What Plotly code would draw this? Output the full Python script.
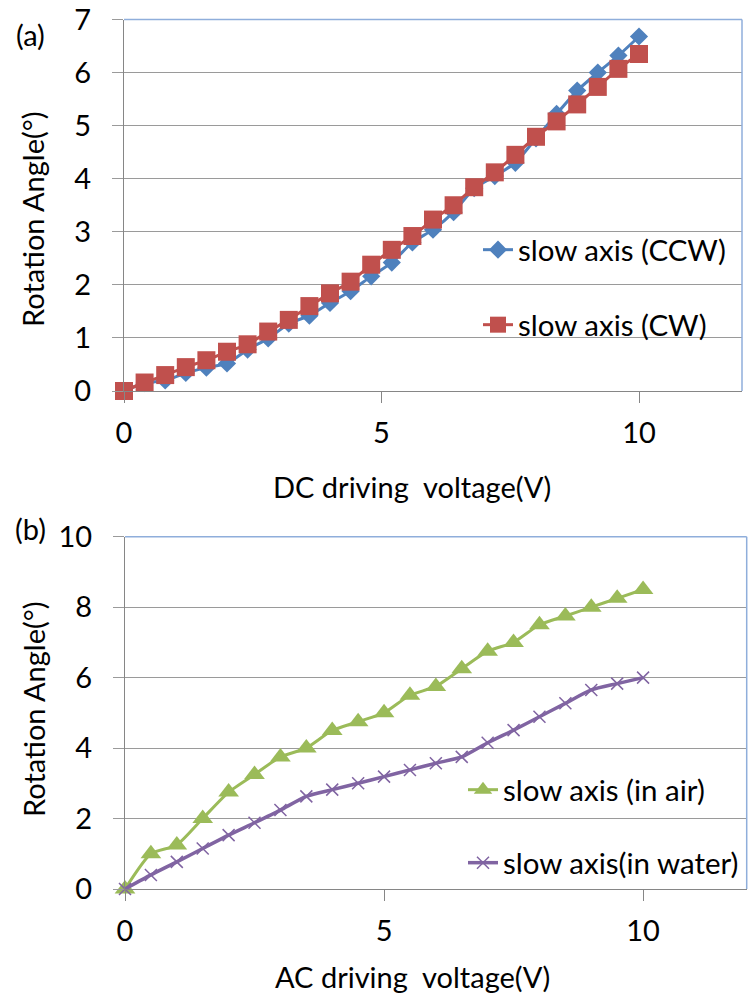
import plotly.graph_objects as go

# ---------------- data ----------------
dc_voltage = [0, 0.4, 0.8, 1.2, 1.6, 2.0, 2.4, 2.8, 3.2, 3.6, 4.0, 4.4, 4.8,
              5.2, 5.6, 6.0, 6.4, 6.8, 7.2, 7.6, 8.0, 8.4, 8.8, 9.2, 9.6, 10.0]
ccw_angle = [0, 0.15, 0.20, 0.34, 0.44, 0.52, 0.78, 0.99, 1.27, 1.42, 1.66, 1.88, 2.16,
             2.42, 2.80, 3.04, 3.37, 3.82, 4.05, 4.30, 4.76, 5.22, 5.66, 6.00, 6.32, 6.68]
cw_angle = [0, 0.16, 0.30, 0.45, 0.58, 0.74, 0.88, 1.12, 1.34, 1.60, 1.84, 2.06, 2.38,
            2.66, 2.92, 3.23, 3.50, 3.84, 4.12, 4.45, 4.79, 5.08, 5.40, 5.73, 6.07, 6.35]

ac_voltage = [0, 0.5, 1.0, 1.5, 2.0, 2.5, 3.0, 3.5, 4.0, 4.5, 5.0,
              5.5, 6.0, 6.5, 7.0, 7.5, 8.0, 8.5, 9.0, 9.5, 10.0]
air_angle = [0, 1.0, 1.25, 2.0, 2.75, 3.25, 3.75, 4.0, 4.5, 4.75, 5.0,
             5.5, 5.75, 6.25, 6.75, 7.0, 7.5, 7.75, 8.0, 8.25, 8.5]
water_angle = [0, 0.40, 0.77, 1.15, 1.53, 1.88, 2.24, 2.63, 2.82, 3.00, 3.19,
               3.38, 3.57, 3.75, 4.15, 4.51, 4.89, 5.27, 5.65, 5.83, 6.0]

x_ticks = [0, 5, 10]
top_y_ticks = [0, 1, 2, 3, 4, 5, 6, 7]
bottom_y_ticks = [0, 2, 4, 6, 8, 10]

names = ["slow axis (CCW)", "slow axis (CW)", "slow axis (in air)", "slow axis(in water)"]

# ---------------- style ----------------
OFF = 0  # body margin is removed by the post script below
W, H = 750 - OFF, 996 - OFF
FONT = "Lato"
FS = 29
LFS = 29.5
BLUE, RED, GREEN, PURPLE = "#4F81BD", "#C0504D", "#9BBB59", "#8064A2"
GRID = "#9A9A9A"
AXIS = "#868686"
BORDER = "#8FAEDB"


def px(x):
    return (x - OFF) / W


def py(y):
    return 1 - (y - OFF) / H


fig = go.Figure()

fig.add_trace(go.Scatter(x=dc_voltage, y=ccw_angle, name=names[0], mode="lines+markers",
                         line=dict(color=BLUE, width=3, shape="spline", smoothing=0.6),
                         marker=dict(symbol="diamond", size=14, color=BLUE),
                         cliponaxis=False, showlegend=True,
                         xaxis="x", yaxis="y", legend="legend"))
fig.add_trace(go.Scatter(x=dc_voltage, y=cw_angle, name=names[1], mode="lines+markers",
                         line=dict(color=RED, width=3, shape="spline", smoothing=0.6),
                         marker=dict(symbol="square", size=18, color=RED),
                         cliponaxis=False, showlegend=True,
                         xaxis="x", yaxis="y", legend="legend2"))
fig.add_trace(go.Scatter(x=ac_voltage, y=air_angle, name=names[2], mode="lines+markers",
                         line=dict(color=GREEN, width=3, shape="spline", smoothing=0.6),
                         marker=dict(symbol="triangle-up", size=18, color=GREEN),
                         cliponaxis=False, showlegend=True,
                         xaxis="x2", yaxis="y2", legend="legend3"))
fig.add_trace(go.Scatter(x=ac_voltage, y=water_angle, name=names[3], mode="lines+markers",
                         line=dict(color=PURPLE, width=3.5, shape="spline", smoothing=0.6),
                         marker=dict(symbol="x-thin", size=12, color=PURPLE,
                                     line=dict(color=PURPLE, width=1.5)),
                         cliponaxis=False, showlegend=True,
                         xaxis="x2", yaxis="y2", legend="legend4"))

tickfont = dict(family=FONT, size=FS, color="black")
xcommon = dict(range=[0, 12], tickvals=x_ticks, showgrid=False, zeroline=False,
               showline=True, linecolor=AXIS, linewidth=1, ticks="outside",
               ticklen=11, tickcolor=AXIS, tickfont=tickfont, ticklabelstandoff=5,
               automargin=False, ticklabeloverflow="allow")
ycommon = dict(showgrid=True, gridcolor=GRID, gridwidth=1, zeroline=False,
               showline=True, linecolor=AXIS, linewidth=1, ticks="outside",
               ticklen=11, tickcolor=GRID, tickfont=tickfont, ticklabelstandoff=15,
               automargin=False, ticklabeloverflow="allow")

fig.update_layout(
    width=W, height=H,
    margin=dict(l=0, r=0, t=0, b=0, autoexpand=False),
    paper_bgcolor="white", plot_bgcolor="white",
    font=dict(family=FONT, size=FS, color="black"),
    showlegend=True,
    xaxis=dict(domain=[px(124), px(742)], anchor="y", **xcommon),
    yaxis=dict(domain=[py(391), py(19.5)], anchor="x", range=[0, 7],
               tickvals=top_y_ticks, **ycommon),
    xaxis2=dict(domain=[px(125), px(746.7)], anchor="y2", **xcommon),
    yaxis2=dict(domain=[py(889), py(536.7)], anchor="x2", range=[0, 10],
                tickvals=bottom_y_ticks, **ycommon),
)

legend_style = dict(bgcolor="rgba(0,0,0,0)", borderwidth=0, xanchor="left",
                    yanchor="middle", font=dict(family=FONT, size=LFS, color="black"),
                    itemwidth=30, visible=True)
fig.update_layout(
    legend=dict(x=px(478), y=py(250), **legend_style),
    legend2=dict(x=px(478), y=py(325), **legend_style),
    legend3=dict(x=px(463), y=py(790), **legend_style),
    legend4=dict(x=px(463), y=py(863), **legend_style),
)

# plot-area border (top and right)
for xr, yr in (("x domain", "y domain"), ("x2 domain", "y2 domain")):
    fig.add_shape(type="line", xref=xr, yref=yr, x0=0, x1=1, y0=1, y1=1,
                  line=dict(color=BORDER, width=1.5))
    fig.add_shape(type="line", xref=xr, yref=yr, x0=1, x1=1, y0=0, y1=1,
                  line=dict(color=BORDER, width=1.5))

ann_font = dict(family=FONT, size=FS, color="black")
annotations = [
    dict(text="(a)", x=px(30), y=py(35), xanchor="center", yanchor="middle"),
    dict(text="(b)", x=px(30), y=py(528), xanchor="center", yanchor="middle"),
    dict(text="Rotation Angle(°)", x=px(33), y=py(220), textangle=-90,
         xanchor="center", yanchor="middle"),
    dict(text="Rotation Angle(°)", x=px(33), y=py(710), textangle=-90,
         xanchor="center", yanchor="middle"),
    dict(text="DC driving  voltage(V)", x=px(412), y=py(486), xanchor="center", yanchor="middle"),
    dict(text="AC driving  voltage(V)", x=px(412), y=py(976), xanchor="center", yanchor="middle"),
]
for a in annotations:
    fig.add_annotation(xref="paper", yref="paper", showarrow=False, font=ann_font, **a)

fig.write_html("out.html",
               config={"displayModeBar": False},
               post_script="document.body.style.margin='0px';document.body.style.overflow='hidden';")
